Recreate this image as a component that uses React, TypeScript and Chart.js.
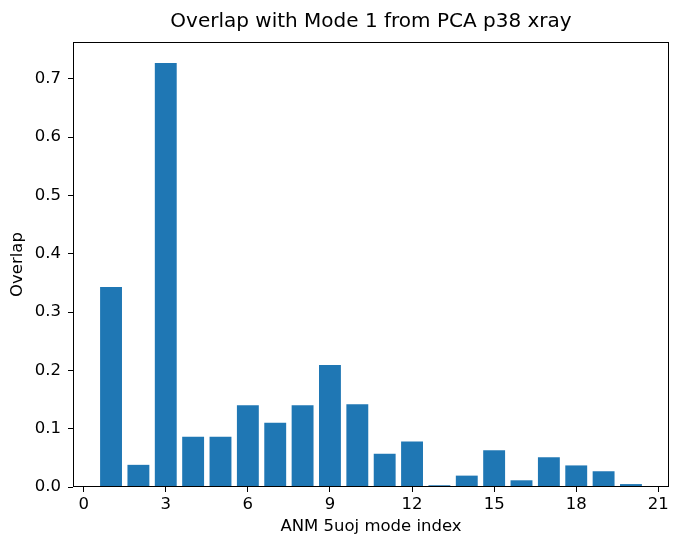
import React, { useEffect, useRef } from "react";
import { Chart, registerables } from "chart.js";

Chart.register(...registerables);

const modeIndex = [1, 2, 3, 4, 5, 6, 7, 8, 9, 10, 11, 12, 13, 14, 15, 16, 17, 18, 19, 20];
const overlap = [0.343, 0.038, 0.727, 0.086, 0.086, 0.140, 0.110, 0.140, 0.209, 0.142, 0.057, 0.078, 0.003, 0.0195, 0.063, 0.0115, 0.051, 0.037, 0.027, 0.005];
const xTicks = [0, 3, 6, 9, 12, 15, 18, 21];
const yTicks = [0, 0.1, 0.2, 0.3, 0.4, 0.5, 0.6, 0.7];
const titleText = "Overlap with Mode 1 from PCA p38 xray";
const xLabel = "ANM 5uoj mode index";
const yLabel = "Overlap";

const FONT = "'DejaVu Sans', sans-serif";
const FS = 16.5;

const framePlugin = {
  id: "frame",
  afterDraw(chart: any) {
    const { ctx, chartArea } = chart;
    ctx.save();
    ctx.strokeStyle = "#000";
    ctx.lineWidth = 1;
    const l = Math.round(chartArea.left) + 0.5;
    const t = Math.round(chartArea.top) + 0.5;
    const r = Math.round(chartArea.right) - 0.5;
    const b = Math.round(chartArea.bottom) - 0.5;
    ctx.strokeRect(l, t, r - l, b - t);
    ctx.fillStyle = "#000";
    ctx.font = `20px ${FONT}`;
    ctx.textAlign = "center";
    ctx.textBaseline = "middle";
    ctx.fillText(titleText, (chartArea.left + chartArea.right) / 2, 22);
    ctx.restore();
  },
};

export default function App() {
  const ref = useRef<HTMLCanvasElement | null>(null);
  useEffect(() => {
    const canvas = ref.current;
    if (!canvas) return;
    const chart = new Chart(canvas, {
      type: "bar",
      data: {
        datasets: [
          {
            data: modeIndex.map((x, i) => ({ x, y: overlap[i] })),
            backgroundColor: "#1f77b4",
            borderWidth: 0,
            barPercentage: 0.8,
            categoryPercentage: 1.0,
          },
        ],
      },
      options: {
        responsive: false,
        animation: false,
        devicePixelRatio: 1,
        layout: { padding: { top: 42, right: 4, left: 0, bottom: 0 } },
        plugins: { legend: { display: false }, tooltip: { enabled: false }, title: { display: false } },
        scales: {
          x: {
            type: "linear",
            min: -0.39,
            max: 21.39,
            offset: false,
            afterBuildTicks: (s: any) => {
              s.ticks = xTicks.map((v) => ({ value: v }));
            },
            afterFit: (s: any) => {
              s.height = 52;
            },
            grid: { display: true, offset: false, drawOnChartArea: false, drawTicks: true, tickLength: 5, tickColor: "#000", tickWidth: 1 },
            border: { display: false },
            ticks: {
              autoSkip: false,
              maxRotation: 0,
              padding: 3,
              color: "#000",
              font: { family: FONT, size: FS },
              callback: (v: any) => String(v),
            },
            title: { display: true, text: xLabel, color: "#000", font: { family: FONT, size: FS }, padding: { top: 0, bottom: 2 } },
          },
          y: {
            type: "linear",
            min: 0,
            max: 0.763,
            afterBuildTicks: (s: any) => {
              s.ticks = yTicks.map((v) => ({ value: v }));
            },
            afterFit: (s: any) => {
              s.width = 73;
            },
            grid: { display: true, offset: false, drawOnChartArea: false, drawTicks: true, tickLength: 5, tickColor: "#000", tickWidth: 1 },
            border: { display: false },
            ticks: {
              autoSkip: false,
              padding: 7,
              color: "#000",
              font: { family: FONT, size: FS },
              callback: (v: any) => Number(v).toFixed(1),
            },
            title: { display: true, text: yLabel, color: "#000", font: { family: FONT, size: FS }, padding: { top: 8, bottom: 0 } },
          },
        },
      },
      plugins: [framePlugin],
    });
    return () => chart.destroy();
  }, []);
  return (
    <div style={{ position: "absolute", left: 0, top: 0, width: 673, height: 539, background: "#fff" }}>
      <canvas ref={ref} width={673} height={539} style={{ display: "block" }} />
    </div>
  );
}
